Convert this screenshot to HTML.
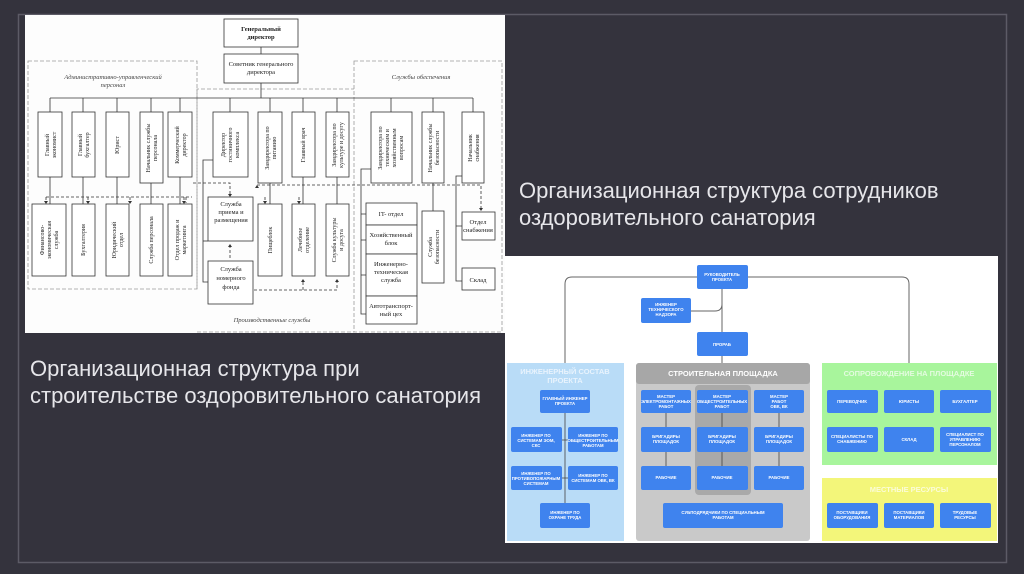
<!DOCTYPE html>
<html><head><meta charset="utf-8"><style>
html,body{margin:0;padding:0;background:#34333d;}
svg{display:block}
</style></head><body>
<svg width="1024" height="574" viewBox="0 0 1024 574" xmlns="http://www.w3.org/2000/svg">
<rect width="1024" height="574" fill="#34333d"/>
<rect x="18.5" y="14.5" width="988" height="548" fill="none" stroke="#5c5b66" stroke-width="1.5"/>
<rect x="25" y="15" width="480" height="318" fill="#fdfdfd"/>
<g font-family="Liberation Serif, serif" fill="#222" stroke="none">
<g fill="none" stroke="#999" stroke-dasharray="4,2" stroke-width="0.8">
<rect x="28" y="61" width="169" height="228"/>
<rect x="354" y="61" width="148" height="271"/>
<polyline points="197,289 197,89 354,89"/>
<line x1="197" y1="332" x2="354" y2="332"/>
</g>
<g fill="none" stroke="#333" stroke-width="0.8">
<line x1="261" y1="47" x2="261" y2="54"/>
<line x1="261" y1="83" x2="261" y2="98"/>
<line x1="50" y1="98" x2="473" y2="98"/>
<path d="M50 98V112M83 98V112M117 98V112M151 98V112M180 98V112M230 98V112M270 98V112M303 98V112M337 98V112M391 98V112M433 98V112M473 98V112"/>
<path d="M50 177V204M83 177V204M117 177V204M151 183V204M180 177V204M270 183V204M303 177V204M337 177V204M433 183V211"/>
<path d="M213 160H203V282H208"/>
<path d="M203 241H208"/>
<path d="M371 169H361V314H366M361 214H366M361 240H366M361 275H366"/>
<path d="M462 176H456V281H462M456 226H462"/>
</g>
<g fill="none" stroke="#333" stroke-width="0.8" stroke-dasharray="3,2">
<path d="M46 197H192M46 197V203M88 197V203M130 197V203M184 197V203M186 197V203"/>
<path d="M193 183H230V196"/>
<path d="M230 245V260"/>
<path d="M254 290H337V280M303 290V280"/>
<path d="M257 185H481V210"/>
<path d="M265 197V204M299 197V204"/>
</g>
<g fill="#333">
<path d="M44 201h4l-2 3z M86 201h4l-2 3z M128 201h4l-2 3z M182 201h4l-2 3z M228 194h4l-2 3z M263 201h4l-2 3z M297 201h4l-2 3z M479 208h4l-2 3z M228 247h4l-2 -3z M301 282h4l-2 -3z M335 282h4l-2 -3z M255 188h4l-2 -3z"/>
</g>
<g fill="#fff" stroke="#333" stroke-width="0.8">
<rect x="224" y="19" width="74" height="28"/>
<rect x="224" y="54" width="74" height="29"/>
<rect x="38" y="112" width="24" height="65"/><rect x="72" y="112" width="23" height="65"/><rect x="106" y="112" width="23" height="65"/><rect x="140" y="112" width="23" height="71"/><rect x="168" y="112" width="24" height="65"/>
<rect x="213" y="112" width="35" height="65"/><rect x="258" y="112" width="24" height="71"/><rect x="292" y="112" width="23" height="65"/><rect x="326" y="112" width="23" height="65"/>
<rect x="371" y="112" width="41" height="71"/><rect x="422" y="112" width="22" height="71"/><rect x="462" y="112" width="22" height="71"/>
<rect x="32" y="204" width="34" height="72"/><rect x="72" y="204" width="23" height="72"/><rect x="106" y="204" width="23" height="72"/><rect x="140" y="204" width="23" height="72"/><rect x="168" y="204" width="24" height="72"/>
<rect x="208" y="197" width="45" height="44"/><rect x="208" y="261" width="45" height="43"/>
<rect x="258" y="204" width="24" height="72"/><rect x="292" y="204" width="23" height="72"/><rect x="326" y="204" width="23" height="72"/>
<rect x="366" y="203" width="51" height="22"/><rect x="366" y="225" width="51" height="29"/><rect x="366" y="254" width="51" height="42"/><rect x="366" y="296" width="51" height="28"/>
<rect x="422" y="211" width="22" height="72"/><rect x="462" y="212" width="33" height="28"/><rect x="462" y="268" width="33" height="22"/>
</g>
<g font-size="6.5" text-anchor="middle">
<text x="261" y="31" font-weight="bold">Генеральный</text><text x="261" y="39" font-weight="bold">директор</text>
<text x="261" y="66">Советник генерального</text><text x="261" y="74">директора</text>
<text x="231" y="206">Служба</text><text x="231" y="214">приема и</text><text x="231" y="222">размещения</text>
<text x="231" y="271">Служба</text><text x="231" y="280">номерного</text><text x="231" y="289">фонда</text>
<text x="391" y="216">IT- отдел</text>
<text x="391" y="237">Хозяйственный</text><text x="391" y="245">блок</text>
<text x="391" y="266">Инженерно-</text><text x="391" y="274">техническая</text><text x="391" y="282">служба</text>
<text x="391" y="308">Автотранспорт-</text><text x="391" y="316">ный цех</text>
<text x="478" y="224">Отдел</text><text x="478" y="232">снабжения</text>
<text x="478" y="282">Склад</text>
<g font-style="italic" font-size="6.5" fill="#444">
<text x="113" y="79">Административно-управленческий</text><text x="113" y="87">персонал</text>
<text x="421" y="79">Службы обеспечения</text>
<text x="272" y="322">Производственные службы</text>
</g>
</g>
<g font-size="6" text-anchor="middle">
<text transform="translate(50,145) rotate(-90)"><tspan x="0" dy="-1">Главный</tspan><tspan x="0" dy="7">экономист</tspan></text>
<text transform="translate(83,145) rotate(-90)"><tspan x="0" dy="-1">Главный</tspan><tspan x="0" dy="7">бухгалтер</tspan></text>
<text transform="translate(117,145) rotate(-90)"><tspan x="0" dy="2">Юрист</tspan></text>
<text transform="translate(151,148) rotate(-90)"><tspan x="0" dy="-1">Начальник службы</tspan><tspan x="0" dy="7">персонала</tspan></text>
<text transform="translate(180,145) rotate(-90)"><tspan x="0" dy="-1">Коммерческий</tspan><tspan x="0" dy="7">директор</tspan></text>
<text transform="translate(230,145) rotate(-90)"><tspan x="0" dy="-5">Директор</tspan><tspan x="0" dy="7">гостиничного</tspan><tspan x="0" dy="7">комплекса</tspan></text>
<text transform="translate(270,148) rotate(-90)"><tspan x="0" dy="-1">Замдиректора по</tspan><tspan x="0" dy="7">питанию</tspan></text>
<text transform="translate(303,145) rotate(-90)"><tspan x="0" dy="2">Главный врач</tspan></text>
<text transform="translate(337,145) rotate(-90)"><tspan x="0" dy="-1">Замдиректора по</tspan><tspan x="0" dy="7">культуре и досугу</tspan></text>
<text transform="translate(391,148) rotate(-90)"><tspan x="0" dy="-9">Замдиректора по</tspan><tspan x="0" dy="7">техническим и</tspan><tspan x="0" dy="7">хозяйственным</tspan><tspan x="0" dy="7">вопросам</tspan></text>
<text transform="translate(433,148) rotate(-90)"><tspan x="0" dy="-1">Начальник службы</tspan><tspan x="0" dy="7">безопасности</tspan></text>
<text transform="translate(473,148) rotate(-90)"><tspan x="0" dy="-1">Начальник</tspan><tspan x="0" dy="7">снабжения</tspan></text>
<text transform="translate(49,240) rotate(-90)"><tspan x="0" dy="-5">Финансово-</tspan><tspan x="0" dy="7">экономическая</tspan><tspan x="0" dy="7">служба</tspan></text>
<text transform="translate(83,240) rotate(-90)"><tspan x="0" dy="2">Бухгалтерия</tspan></text>
<text transform="translate(117,240) rotate(-90)"><tspan x="0" dy="-1">Юридический</tspan><tspan x="0" dy="7">отдел</tspan></text>
<text transform="translate(151,240) rotate(-90)"><tspan x="0" dy="2">Служба персонала</tspan></text>
<text transform="translate(180,240) rotate(-90)"><tspan x="0" dy="-1">Отдел продаж и</tspan><tspan x="0" dy="7">маркетинга</tspan></text>
<text transform="translate(270,240) rotate(-90)"><tspan x="0" dy="2">Пищеблок</tspan></text>
<text transform="translate(303,240) rotate(-90)"><tspan x="0" dy="-1">Лечебное</tspan><tspan x="0" dy="7">отделение</tspan></text>
<text transform="translate(337,240) rotate(-90)"><tspan x="0" dy="-1">Служба культуры</tspan><tspan x="0" dy="7">и досуга</tspan></text>
<text transform="translate(433,247) rotate(-90)"><tspan x="0" dy="-1">Служба</tspan><tspan x="0" dy="7">безопасности</tspan></text>
</g>
</g>

<g font-family="Liberation Sans, sans-serif" fill="#e6e6ea" font-size="22">
<text x="519" y="198">Организационная структура сотрудников</text>
<text x="519" y="225">оздоровительного санатория</text>
<text x="30" y="376">Организационная структура при</text>
<text x="30" y="403">строительстве оздоровительного санатория</text>
</g>

<rect x="505" y="256" width="493" height="287" fill="#ffffff"/>
<g fill="none" stroke="#666" stroke-width="1">
<path d="M565 363V284q0-7 7-7H902q7 0 7 7V363"/>
<path d="M722 289V363"/>
<path d="M691 311h24q7 0 7-7"/>
</g>
<rect x="507" y="363" width="117" height="178" fill="#b9dcf7"/>
<rect x="636" y="363" width="174" height="178" rx="3" fill="#c9c9c9"/>
<rect x="636" y="363" width="174" height="21" rx="3" fill="#a7a7a7"/>
<rect x="695" y="385" width="56" height="110" rx="4" fill="#a9a9a9"/>
<rect x="822" y="363" width="175" height="102" fill="#a8f59c"/>
<rect x="822" y="478" width="175" height="63" fill="#f3f67a"/>
<g fill="none" stroke="#444" stroke-width="0.8">
<path d="M565 413V503M562 440H568M562 478H568"/>
<path d="M666 413V466M722 413V466M779 413V466"/>
</g>
<g fill="#3f83ee">
<rect x="697" y="265" width="51" height="24" rx="2"/>
<rect x="641" y="298" width="50" height="25" rx="2"/>
<rect x="697" y="332" width="51" height="24" rx="2"/>
<rect x="540" y="390" width="50" height="23" rx="2"/>
<rect x="511" y="427" width="51" height="25" rx="2"/><rect x="568" y="427" width="50" height="25" rx="2"/>
<rect x="511" y="466" width="51" height="24" rx="2"/><rect x="568" y="466" width="50" height="24" rx="2"/>
<rect x="540" y="503" width="50" height="25" rx="2"/>
<rect x="641" y="390" width="50" height="23" rx="2"/><rect x="697" y="390" width="51" height="23" rx="2"/><rect x="754" y="390" width="50" height="23" rx="2"/>
<rect x="641" y="427" width="50" height="25" rx="2"/><rect x="697" y="427" width="51" height="25" rx="2"/><rect x="754" y="427" width="50" height="25" rx="2"/>
<rect x="641" y="466" width="50" height="24" rx="2"/><rect x="697" y="466" width="51" height="24" rx="2"/><rect x="754" y="466" width="50" height="24" rx="2"/>
<rect x="663" y="503" width="120" height="25" rx="2"/>
<rect x="827" y="390" width="51" height="23" rx="2"/><rect x="884" y="390" width="50" height="23" rx="2"/><rect x="940" y="390" width="51" height="23" rx="2"/>
<rect x="827" y="427" width="51" height="25" rx="2"/><rect x="884" y="427" width="50" height="25" rx="2"/><rect x="940" y="427" width="51" height="25" rx="2"/>
<rect x="827" y="503" width="51" height="25" rx="2"/><rect x="884" y="503" width="50" height="25" rx="2"/><rect x="940" y="503" width="51" height="25" rx="2"/>
</g>
<g font-family="Liberation Sans, sans-serif" font-weight="bold" fill="#fff" text-anchor="middle" font-size="4.3">
<text x="722" y="276">РУКОВОДИТЕЛЬ</text><text x="722" y="281">ПРОЕКТА</text>
<text x="666" y="306">ИНЖЕНЕР</text><text x="666" y="311">ТЕХНИЧЕСКОГО</text><text x="666" y="316">НАДЗОРА</text>
<text x="722" y="346">ПРОРАБ</text>
<text x="565" y="400">ГЛАВНЫЙ ИНЖЕНЕР</text><text x="565" y="405">ПРОЕКТА</text>
<text x="536" y="437">ИНЖЕНЕР ПО</text><text x="536" y="442">СИСТЕМАМ ЭОМ,</text><text x="536" y="447">СКС</text>
<text x="593" y="437">ИНЖЕНЕР ПО</text><text x="593" y="442">ОБЩЕСТРОИТЕЛЬНЫМ</text><text x="593" y="447">РАБОТАМ</text>
<text x="536" y="475">ИНЖЕНЕР ПО</text><text x="536" y="480">ПРОТИВОПОЖАРНЫМ</text><text x="536" y="485">СИСТЕМАМ</text>
<text x="593" y="477">ИНЖЕНЕР ПО</text><text x="593" y="482">СИСТЕМАМ ОВК, ВК</text>
<text x="565" y="514">ИНЖЕНЕР ПО</text><text x="565" y="519">ОХРАНЕ ТРУДА</text>
<text x="666" y="398">МАСТЕР</text><text x="666" y="403">ЭЛЕКТРОМОНТАЖНЫХ</text><text x="666" y="408">РАБОТ</text>
<text x="722" y="398">МАСТЕР</text><text x="722" y="403">ОБЩЕСТРОИТЕЛЬНЫХ</text><text x="722" y="408">РАБОТ</text>
<text x="779" y="398">МАСТЕР</text><text x="779" y="403">РАБОТ</text><text x="779" y="408">ОВК, ВК</text>
<text x="666" y="438">БРИГАДИРЫ</text><text x="666" y="443">ПЛОЩАДОК</text>
<text x="722" y="438">БРИГАДИРЫ</text><text x="722" y="443">ПЛОЩАДОК</text>
<text x="779" y="438">БРИГАДИРЫ</text><text x="779" y="443">ПЛОЩАДОК</text>
<text x="666" y="479">РАБОЧИЕ</text><text x="722" y="479">РАБОЧИЕ</text><text x="779" y="479">РАБОЧИЕ</text>
<text x="723" y="514">СУБПОДРЯДЧИКИ ПО СПЕЦИАЛЬНЫМ</text><text x="723" y="519">РАБОТАМ</text>
<text x="852" y="403">ПЕРЕВОДЧИК</text><text x="909" y="403">ЮРИСТЫ</text><text x="965" y="403">БУХГАЛТЕР</text>
<text x="852" y="438">СПЕЦИАЛИСТЫ ПО</text><text x="852" y="443">СНАБЖЕНИЮ</text>
<text x="909" y="441">СКЛАД</text>
<text x="965" y="436">СПЕЦИАЛИСТ ПО</text><text x="965" y="441">УПРАВЛЕНИЮ</text><text x="965" y="446">ПЕРСОНАЛОМ</text>
<text x="852" y="514">ПОСТАВЩИКИ</text><text x="852" y="519">ОБОРУДОВАНИЯ</text>
<text x="909" y="514">ПОСТАВЩИКИ</text><text x="909" y="519">МАТЕРИАЛОВ</text>
<text x="965" y="514">ТРУДОВЫЕ</text><text x="965" y="519">РЕСУРСЫ</text>
</g>
<g font-family="Liberation Sans, sans-serif" font-weight="bold" fill="#fff" text-anchor="middle" font-size="7.5">
<text x="565" y="374" fill="#e8f3fd">ИНЖЕНЕРНЫЙ СОСТАВ</text><text x="565" y="383" fill="#e8f3fd">ПРОЕКТА</text>
<text x="723" y="376">СТРОИТЕЛЬНАЯ ПЛОЩАДКА</text>
<text x="909" y="376" fill="#e4fbe0">СОПРОВОЖДЕНИЕ НА ПЛОЩАДКЕ</text>
<text x="909" y="492" fill="#fbfcd8">МЕСТНЫЕ РЕСУРСЫ</text>
</g>
</svg>
</body></html>
